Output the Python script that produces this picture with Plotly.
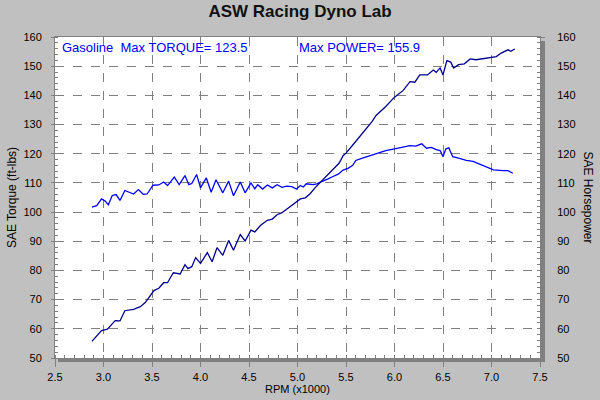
import plotly.graph_objects as go

# ---- data ----
torque_rpm = [2.88, 2.93, 2.98, 3.02, 3.05, 3.09, 3.13, 3.17, 3.22, 3.28, 3.31, 3.36, 3.41, 3.45,
              3.51, 3.57, 3.62, 3.66, 3.73, 3.78, 3.84, 3.88, 3.91, 3.96, 4.00, 4.06, 4.11, 4.16,
              4.23, 4.29, 4.34, 4.41, 4.46, 4.52, 4.56, 4.59, 4.64, 4.69, 4.74, 4.79, 4.84, 4.89,
              4.94, 4.99, 5.03, 5.06, 5.09, 5.16, 5.20, 5.23, 5.28, 5.31, 5.36, 5.42, 5.47, 5.52,
              5.57, 5.60, 5.67, 5.74, 5.81, 5.86, 5.91, 6.00, 6.09, 6.16, 6.22, 6.28, 6.33, 6.38,
              6.43, 6.47, 6.50, 6.53, 6.56, 6.60, 6.66, 6.74, 6.81, 6.88, 6.95, 7.02, 7.12, 7.17, 7.22]
torque = [101.7, 102.2, 104.5, 103.7, 102.5, 105.7, 106.0, 104.0, 107.4, 106.6, 106.2, 107.7, 106.1, 106.2,
          109.2, 109.3, 110.3, 109.1, 112.0, 109.4, 112.5, 109.4, 109.8, 112.9, 108.3, 111.7, 106.8, 111.1,
          106.6, 110.6, 105.6, 110.3, 106.6, 110.0, 108.0, 109.4, 107.9, 109.3, 108.3, 109.4, 108.5, 108.9,
          108.7, 107.9, 109.1, 108.6, 109.7, 109.4, 109.7, 110.2, 110.8, 111.3, 112.1, 113.0, 114.4, 115.0,
          116.0, 117.7, 118.5, 119.3, 119.9, 120.6, 121.1, 121.7, 122.2, 122.8, 122.6, 123.4, 121.9, 122.2,
          121.4, 121.1, 119.0, 121.7, 122.0, 119.0, 118.5, 117.7, 117.4, 116.5, 115.4, 114.5, 114.2, 114.2, 113.3]

power_rpm = [2.88, 2.93, 2.98, 3.04, 3.09, 3.12, 3.17, 3.22, 3.31, 3.38, 3.43, 3.47, 3.52, 3.57,
             3.62, 3.66, 3.72, 3.79, 3.84, 3.87, 3.91, 3.95, 4.00, 4.07, 4.12, 4.17, 4.23, 4.29,
             4.34, 4.41, 4.46, 4.52, 4.56, 4.62, 4.69, 4.74, 4.79, 4.84, 4.89, 4.96, 5.03, 5.08,
             5.13, 5.18, 5.23, 5.28, 5.33, 5.38, 5.43, 5.47, 5.50, 5.57, 5.64, 5.71, 5.77, 5.81,
             5.91, 6.00, 6.09, 6.16, 6.21, 6.26, 6.34, 6.40, 6.43, 6.47, 6.50, 6.54, 6.58, 6.61,
             6.66, 6.72, 6.78, 6.84, 6.91, 7.00, 7.05, 7.10, 7.17, 7.20, 7.24]
power = [55.7, 57.4, 59.4, 59.9, 61.7, 62.8, 62.7, 66.2, 66.7, 67.6, 69.0, 70.8, 73.1, 73.9,
         75.8, 75.8, 79.2, 78.8, 82.0, 80.6, 81.3, 84.4, 82.4, 86.1, 83.0, 87.8, 85.2, 90.3,
         86.9, 92.3, 90.1, 93.8, 93.2, 95.5, 97.2, 97.6, 99.1, 99.8, 101.1, 102.6, 104.5, 104.9,
         106.3, 108.3, 110.0, 111.6, 113.4, 115.0, 116.8, 119.3, 120.2, 123.0, 125.8, 128.8, 131.1, 133.1,
         136.2, 139.4, 141.7, 144.7, 144.5, 147.0, 147.0, 148.7, 147.9, 149.4, 147.0, 151.9, 151.4, 149.4,
         150.5, 150.8, 152.5, 152.2, 152.5, 153.1, 153.3, 154.5, 155.6, 155.1, 155.9]

title_text = "ASW Racing Dyno Lab"
label_left = "Gasoline\u00a0 Max TORQUE= 123.5"
label_right = "Max POWER= 155.9"

FONT = "Liberation Sans, Arial, sans-serif"
GRID = "#808080"

fig = go.Figure()
fig.add_trace(go.Scatter(x=torque_rpm, y=torque, mode="lines", name="Torque",
                         line=dict(color="#0000ff", width=1.3)))
fig.add_trace(go.Scatter(x=power_rpm, y=power, mode="lines", name="Power", yaxis="y2",
                         line=dict(color="#000090", width=1.3)))

W, H = 485, 321
fig.update_layout(
    width=600, height=400,
    margin=dict(l=55, r=60, t=37, b=42, pad=0),
    paper_bgcolor="#c0c0c0",
    plot_bgcolor="#ffffff",
    showlegend=False,
    font=dict(family=FONT, size=11, color="#000000"),
    title=dict(text="<b>" + title_text + "</b>", x=0.5, xanchor="center", xref="container",
               yref="container", y=1 - 11 / 400, yanchor="middle", automargin=False,
               font=dict(size=17, color="#111111", family=FONT)),
    xaxis=dict(range=[2.5, 7.5], dtick=0.5, tick0=2.5, tickformat=".1f", automargin=False,
               showgrid=True, gridcolor=GRID, griddash="dash", gridwidth=1,
               ticks="outside", ticklen=8, tickcolor=GRID,
               showline=True, linecolor=GRID, mirror=True, zeroline=False,
               ticklabelstandoff=1,
               minor=dict(dtick=0.1, ticks="inside", ticklen=3, tickcolor=GRID, showgrid=False),
               title=dict(text="RPM (x1000)", standoff=3, font=dict(size=11))),
    yaxis=dict(range=[50, 160], dtick=10, tick0=50, automargin=False,
               showgrid=True, gridcolor=GRID, griddash="dash", gridwidth=1,
               ticks="outside", ticklen=3, tickcolor=GRID,
               showline=True, linecolor=GRID, mirror=True, zeroline=False,
               ticklabelstandoff=7,
               minor=dict(dtick=2, ticks="inside", ticklen=3, tickcolor=GRID, showgrid=False),
               title=dict(text="SAE Torque (ft-lbs)", standoff=4, font=dict(size=12))),
    yaxis2=dict(range=[50, 160], dtick=10, tick0=50, overlaying="y", side="right",
                automargin=False,
                showgrid=False, zeroline=False, showline=False,
                ticks="outside", ticklen=4, tickcolor=GRID,
                ticklabelstandoff=10,
                minor=dict(dtick=2, ticks="inside", ticklen=3, tickcolor=GRID, showgrid=False)),
    shapes=[
        # drop shadow: right strip and bottom strip outside the plot area
        dict(type="rect", xref="paper", yref="paper", layer="above",
             x0=1 + 0.5 / W, x1=1 + 5 / W, y0=-4 / H, y1=1 - 4 / H,
             fillcolor="#808080", line=dict(width=0)),
        dict(type="rect", xref="paper", yref="paper", layer="above",
             x0=3 / W, x1=1 + 5 / W, y0=-4 / H, y1=-0.5 / H,
             fillcolor="#808080", line=dict(width=0)),
    ],
    annotations=[
        dict(text=label_left, xref="paper", yref="paper", x=5 / W, y=(358 - 47) / H,
             xanchor="left", yanchor="middle", showarrow=False,
             font=dict(size=13, color="#0000ff", family=FONT)),
        dict(text=label_right, xref="paper", yref="paper", x=(297 - 55) / W, y=(358 - 47) / H,
             xanchor="left", yanchor="middle", showarrow=False,
             font=dict(size=13, color="#0000ff", family=FONT)),
        dict(text="SAE Horsepower", xref="paper", yref="paper", x=(588 - 55) / W, y=0.5,
             xanchor="center", yanchor="middle", showarrow=False, textangle=90,
             font=dict(size=12, color="#000000", family=FONT)),
    ],
)

fig.write_html("out.html", config={"displayModeBar": False},
               post_script="document.body.style.margin='0px';")
